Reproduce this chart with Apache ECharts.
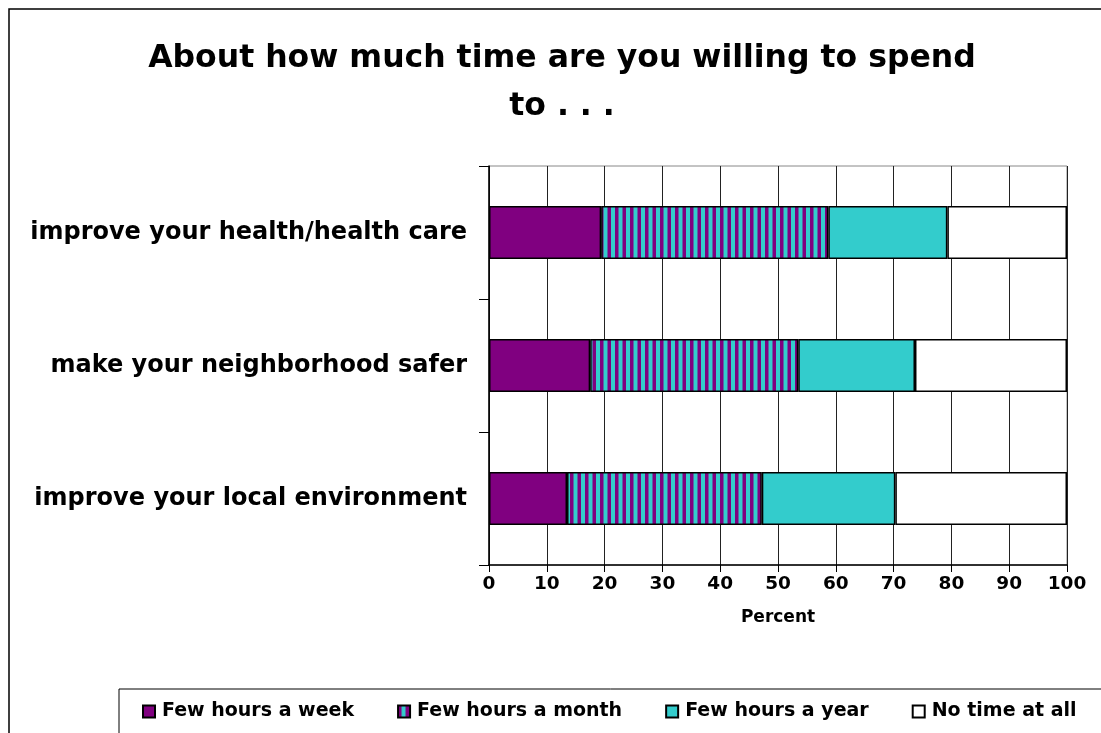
<!DOCTYPE html>
<html>
<head>
<meta charset="utf-8">
<script src="https://cdn.jsdelivr.net/npm/echarts@6/dist/echarts.min.js"></script>
<style>html,body{margin:0;padding:0;background:#fff;}#c{width:1101px;height:733px;}</style>
</head>
<body>
<div id="c"></div>
<script>
const categories = ['improve your health/health care', 'make your neighborhood safer', 'improve your local environment'];
const seriesNames = ['Few hours a week', 'Few hours a month', 'Few hours a year', 'No time at all'];
const weekVals = [19.4, 17.5, 13.5];
const monthVals = [39.3, 36.0, 33.7];
const yearVals = [20.6, 20.2, 23.1];
const noneVals = [20.7, 26.3, 29.7];
const xTicks = [0, 10, 20, 30, 40, 50, 60, 70, 80, 90, 100];

const PURPLE = '#800080', CYAN = '#33CCCC';
const FONT = 'DejaVu Sans';

// striped pattern for "Few hours a month"
const pc = document.createElement('canvas');
pc.width = 15; pc.height = 4;
const g = pc.getContext('2d');
g.fillStyle = CYAN; g.fillRect(0, 0, 15, 4);
g.fillStyle = PURPLE; g.fillRect(0, 0, 3.5, 4); g.fillRect(7.5, 0, 3.5, 4);
const stripe = { image: pc, repeat: 'repeat' };

const chart = echarts.init(document.getElementById('c'), null, { renderer: 'canvas' });
const colors = [PURPLE, stripe, CYAN, '#ffffff'];
const vals = [weekVals, monthVals, yearVals, noneVals];

chart.setOption({
  animation: false,
  backgroundColor: '#fff',
  title: {
    text: 'About how much time are you willing to spend\nto . . .',
    left: 557, top: 30, textAlign: 'center',
    textStyle: { fontFamily: FONT, fontWeight: 'bold', fontSize: 31.5, lineHeight: 48, color: '#000' }
  },
  grid: { left: 489, right: 34, top: 166, bottom: 168, show: true, borderColor: '#888', borderWidth: 1 },
  xAxis: {
    type: 'value', min: 0, max: 100, interval: 10,
    name: 'Percent', nameLocation: 'middle', nameGap: 44,
    nameTextStyle: { fontFamily: FONT, fontWeight: 'bold', fontSize: 17, color: '#000' },
    axisLine: { show: true, lineStyle: { color: '#000', width: 1.5 } },
    axisTick: { show: true, length: 7, lineStyle: { color: '#000' } },
    axisLabel: { margin: 10, fontFamily: FONT, fontWeight: 'bold', fontSize: 18.5, color: '#000',
      formatter: v => xTicks.includes(v) ? String(v) : '' },
    splitLine: { show: true, lineStyle: { color: '#222', width: 1 } }
  },
  yAxis: {
    type: 'category', data: categories, inverse: true,
    axisLine: { show: true, lineStyle: { color: '#000', width: 1.5 } },
    axisTick: { show: true, length: 10, inside: false, lineStyle: { color: '#000' } },
    axisLabel: { margin: 22, fontFamily: FONT, fontWeight: 'bold', fontSize: 24, color: '#000' },
    splitLine: { show: false }
  },
  legend: {
    data: seriesNames, left: 137, top: 697,
    itemWidth: 12, itemHeight: 12, itemGap: 43, icon: 'rect',
    textStyle: { fontFamily: FONT, fontWeight: 'bold', fontSize: 19, color: '#000', padding: [0, 0, 0, 2] }
  },
  series: seriesNames.map((n, i) => ({
    type: 'bar', stack: 'total', barWidth: '40%',
    name: n, data: vals[i],
    itemStyle: { color: colors[i], borderColor: '#000', borderWidth: 1.5 }
  })),
  graphic: [
    { type: 'rect', silent: true, z: -1, shape: { x: 9, y: 9, width: 1110, height: 740 },
      style: { fill: null, stroke: '#000', lineWidth: 1.5 } },
    { type: 'rect', silent: true, z: -1, shape: { x: 119, y: 689, width: 1000, height: 60 },
      style: { fill: null, stroke: '#000', lineWidth: 1 } }
  ]
});
</script>
</body>
</html>
